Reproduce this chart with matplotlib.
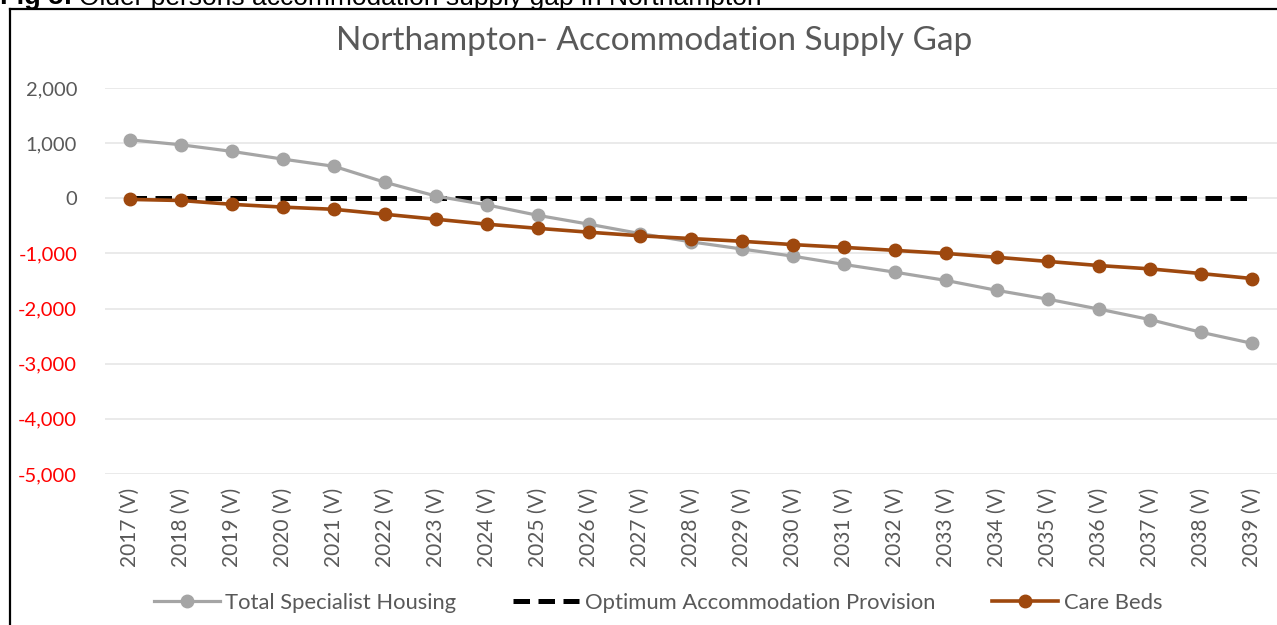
import matplotlib.pyplot as plt
from matplotlib.lines import Line2D
from matplotlib.ticker import FuncFormatter

# Data
years = ['2017', '2018', '2019', '2020', '2021', '2022', '2023', '2024', '2025', '2026', '2027', '2028',
         '2029', '2030', '2031', '2032', '2033', '2034', '2035', '2036', '2037', '2038', '2039']
tick_labels = [y + ' (V)' for y in years]
specialist_housing = [1060, 970, 850, 710, 580, 290, 40, -120, -310, -470, -640, -790,
                      -920, -1050, -1200, -1340, -1490, -1670, -1830, -2010, -2200, -2430, -2630]
optimum_provision = [0] * len(years)
care_beds = [-20, -40, -110, -160, -200, -290, -380, -470, -545, -615, -680, -730,
             -780, -840, -890, -945, -1000, -1070, -1145, -1220, -1280, -1365, -1455]

grey = '#A5A5A5'
brown = '#9E480E'
text_grey = '#595959'
font = 'Lato'

fig = plt.figure(figsize=(12.77, 6.25), dpi=100)
W, H = 1277, 625

# caption above the box (cut off at top, as in the report)
cap = fig.text(0 / W, 1 - 4 / H, 'Fig 5:', fontsize=19.5, fontweight='bold', family='Liberation Sans',
               va='baseline', ha='left')
fig.add_artist(plt.Annotation('Older persons accommodation supply gap in Northampton',
                              xy=(1, 0), xycoords=cap, xytext=(5, 0), textcoords='offset points',
                              fontsize=19, family='Liberation Sans', va='bottom', ha='left'))

# border of the chart box
fig.add_artist(Line2D([10 / W, 10 / W], [0, 1 - 9 / H], color='black', lw=1.6))
fig.add_artist(Line2D([10 / W, 1], [1 - 9 / H, 1 - 9 / H], color='black', lw=1.6))

ax = fig.add_axes([105 / W, 1 - 474 / H, (1277 - 105) / W, (474 - 88) / H])
x = list(range(len(years)))

ax.plot(x, specialist_housing, color=grey, lw=2.3, marker='o', markersize=9,
        label='Total Specialist Housing', zorder=3)
ax.plot(x, optimum_provision, color='black', lw=3.6, dashes=(3.3, 1.7),
        label='Optimum Accommodation Provision', zorder=2)
ax.plot(x, care_beds, color=brown, lw=2.6, marker='o', markersize=9,
        label='Care Beds', zorder=4)

ax.set_ylim(-5000, 2000)
ax.set_yticks(range(-5000, 2001, 1000))
ax.yaxis.set_major_formatter(FuncFormatter(lambda v, p: f'{int(v):,}'))
ax.set_xlim(-0.49, len(years) - 0.51)
ax.set_xticks(x)
ax.set_xticklabels(tick_labels, rotation=90, family=font, fontsize=15, color=text_grey)
for lbl in ax.get_yticklabels():
    lbl.set_family(font)
    lbl.set_fontsize(14.5)
    lbl.set_color('#FF0000' if lbl.get_text().startswith('-') else text_grey)

ax.grid(axis='y', color='#E6E6E6', lw=1.2)
ax.set_axisbelow(True)
for s in ax.spines.values():
    s.set_visible(False)
ax.tick_params(axis='x', length=0, pad=10)
ax.tick_params(axis='y', length=0, pad=20)

fig.text(654 / W, 1 - 41 / H, 'Northampton- Accommodation Supply Gap', family=font, fontsize=24,
         color=text_grey, ha='center', va='center')

leg = fig.legend(loc='center', bbox_to_anchor=(658 / W, 1 - 603 / H), ncol=3, frameon=False,
                 prop={'family': font, 'size': 15.8}, handlelength=3.0, columnspacing=2.6,
                 handletextpad=0.25)
for t in leg.get_texts():
    t.set_color(text_grey)

fig.savefig('out.png', dpi=100)
